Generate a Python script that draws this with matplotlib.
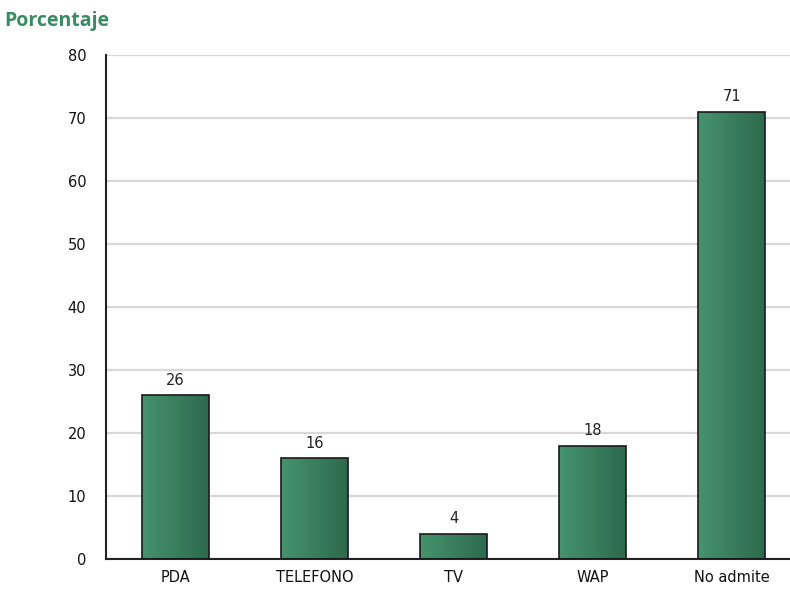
import numpy as np
import matplotlib
matplotlib.use('Agg')
import matplotlib.pyplot as plt
from matplotlib.colors import LinearSegmentedColormap

categories = ['PDA', 'TELEFONO', 'TV', 'WAP', 'No admite']
values = [26, 16, 4, 18, 71]
yticks = [0, 10, 20, 30, 40, 50, 60, 70, 80]

green_cmap = LinearSegmentedColormap.from_list('green_cmap', ['#46936e', '#2d6a4e'])

fig = plt.figure(figsize=(7.9, 5.93), dpi=100)
ax = fig.add_axes([0.134, 0.0573, 0.866, 0.85])

x = np.arange(len(categories))
bars = ax.bar(x, values, width=0.48, color='none', edgecolor='#1a1a1a', linewidth=1.2, zorder=3)

grad = np.linspace(0, 1, 100).reshape(1, -1)
for b in bars:
    x0, y0 = b.get_x(), b.get_y()
    w, h = b.get_width(), b.get_height()
    im = ax.imshow(grad, cmap=green_cmap, extent=[x0, x0 + w, y0, y0 + h],
                   aspect='auto', zorder=2)
    im.set_clip_path(b)
    ax.text(x0 + w / 2, h + 1.2, str(int(h)), ha='center', va='bottom',
            fontsize=10.5, color='#222222', family='DejaVu Sans')

ax.set_xlim(-0.5, 4.42)
ax.set_ylim(0, 80)
ax.set_yticks(yticks)
ax.set_xticks(x)
ax.set_xticklabels(categories, family='DejaVu Sans')
ax.set_yticklabels([str(t) for t in yticks], family='DejaVu Sans')
ax.tick_params(axis='both', length=0, labelsize=10.5, colors='#111111')
ax.tick_params(axis='y', pad=14)
ax.tick_params(axis='x', pad=8)
ax.yaxis.grid(True, color='#d8d8d8', linewidth=1.6, zorder=0)
ax.set_axisbelow(True)
for s in ['top', 'right']:
    ax.spines[s].set_visible(False)
ax.spines['left'].set_color('#222222')
ax.spines['bottom'].set_color('#222222')
ax.spines['left'].set_linewidth(1.5)
ax.spines['bottom'].set_linewidth(1.5)

fig.text(0.006, 0.965, 'Porcentaje', fontsize=14, fontweight='bold',
         color='#3a8a62', family='Open Sans', va='center', ha='left')

fig.savefig('out.png', dpi=100)
